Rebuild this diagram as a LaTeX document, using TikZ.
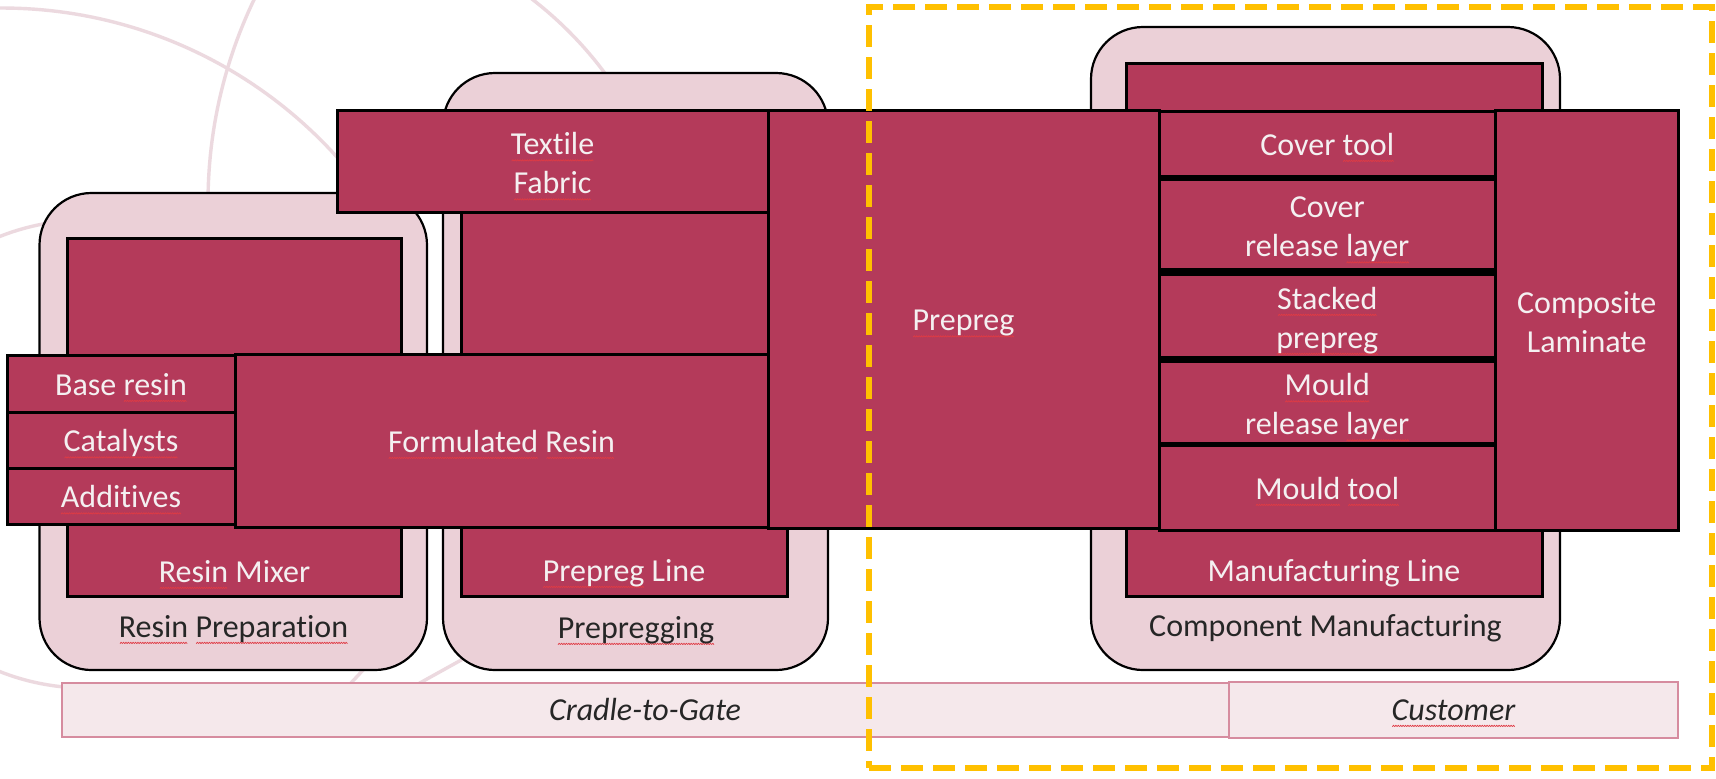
\documentclass[tikz,border=0pt]{standalone}
\usepackage{fontspec}
\setmainfont{Carlito}[Ligatures=NoCommon]
\usetikzlibrary{fit}
\definecolor{crim}{HTML}{B43A5A}
\definecolor{contfill}{HTML}{EBD0D7}
\definecolor{gold}{HTML}{FFC000}
\definecolor{arcpink}{HTML}{ECD9DF}
\definecolor{barfill}{HTML}{F5E8EB}
\definecolor{barline}{HTML}{D68C9F}
\definecolor{sqred}{HTML}{E03A44}
\definecolor{wtxt}{HTML}{F4F0F1}
\definecolor{dtxt}{HTML}{262626}
\newcommand\sqmark{\tikz[baseline=0pt]{\useasboundingbox (0pt,-3.8pt) rectangle (1.2pt,0pt);
  \draw[sqred, line width=0.35pt, line join=round] (0pt,-3.3pt) -- (0.6pt,-2.6pt) -- (1.2pt,-3.3pt);}}
\newsavebox\sqwordbox
\newsavebox\sqmarkbox
\newcommand\sqw[1]{\sbox\sqwordbox{#1}\sbox\sqmarkbox{\sqmark}\leavevmode\rlap{\hbox to \wd\sqwordbox{\cleaders\copy\sqmarkbox\hfill}}\usebox\sqwordbox}
\begin{document}
\begin{tikzpicture}[x=0.5pt, y=-0.5pt,
  every node/.style={inner sep=0pt, outer sep=0pt, font=\fontsize{16}{19.5}\selectfont},
  arcst/.style={draw=arcpink, line width=1.7pt},
  cont/.style={draw=black, fill=contfill, line width=1.1pt, rounded corners=26pt},
  mach/.style={draw=black, fill=crim, line width=1.5pt},
  mat/.style={draw=black, fill=crim, line width=1.5pt},
  one/.style={text=wtxt, text height=14pt, text depth=2.5pt},
  two/.style={text=wtxt, align=center, text height=35pt, text depth=2.5pt},
  wlab/.style={text=wtxt, anchor=base},
  dlab/.style={text=dtxt, anchor=base},
  bar/.style={draw=barline, fill=barfill, line width=0.9pt},
]
\useasboundingbox (0,0) rectangle (1716,778);
\fill[white] (0,0) rectangle (1716,778);

% background decorative arcs
\draw[arcst] plot[domain=95:35, samples=60] ({2+451*cos(\x)}, {459-451*sin(\x)});
\draw[arcst] plot[domain=148:186, samples=40] ({676+468*cos(\x)}, {202-468*sin(\x)});
\draw[arcst] plot[domain=58:35, samples=30] ({300+380*cos(\x)}, {300-380*sin(\x)});
\draw[arcst] plot[domain=98:130, samples=30] ({86+234*cos(\x)}, {454-234*sin(\x)});
\draw[arcst] plot[domain=234:265, samples=30] ({86+234*cos(\x)}, {454-234*sin(\x)});
\draw[arcst] (350,684) -- (365,668);
\draw[arcst] (418,684) -- (463,659);

% process containers
\node[cont, fit={(39.5,193)(427,670)}] (resinprep) {};
\node[cont, fit={(443,73)(828,670)}] (prepregging) {};
\node[cont, fit={(1091,27)(1560,670)}] (compmanuf) {};

% machines
\node[mach, fit={(67.5,238)(401.5,596)}] (mixer) {};
\node[mach, fit={(461,150)(787,596)}] (prepline) {};
\node[mach, fit={(1126,63)(1542,596)}] (mfgline) {};

\node[wlab] (mixerlbl) at (234.5,582) {\sqw{Resin} Mixer};
\node[wlab] (preplinelbl) at (624,581) {\sqw{Prepreg} Line};
\node[wlab] (mfglinelbl) at (1334,581) {Manufacturing Line};
\node[dlab] (resinpreplbl) at (233.5,637) {\sqw{Resin} \sqw{Preparation}};
\node[dlab] (prepregginglbl) at (636,638) {\sqw{Prepregging}};
\node[dlab] (compmanuflbl) at (1325.5,636) {Component Manufacturing};

% materials
\node[mat, fit={(337,110)(768,212)}] (textile) {};
\node[mat, fit={(7,355)(235,412)}] (base) {};
\node[mat, fit={(7,412)(235,468)}] (cat) {};
\node[mat, fit={(7,468)(235,524)}] (add) {};
\node[mat, fit={(235,354)(768,527)}] (formres) {};
\node[mat, fit={(768,110)(1159,528)}] (prepreg) {};
\node[fill=black, fit={(1159,111)(1495.5,530)}] (stackbg) {};
\node[mat, fit={(1159,111)(1495.5,176)}] (covertool) {};
\node[mat, fit={(1159,179)(1495.5,269)}] (coverrel) {};
\node[mat, fit={(1159,274)(1495.5,357)}] (stacked) {};
\node[mat, fit={(1159,361)(1495.5,443)}] (mouldrel) {};
\node[mat, fit={(1159,445)(1495.5,530)}] (mouldtool) {};
\node[mat, fit={(1495.5,110)(1678,530)}] (composite) {};

\node[two] (textilelbl) at (textile.center) {\sqw{Textile}\\\sqw{Fabric}};
\node[one] (baselbl) at (base.center) {Base \sqw{resin}};
\node[one] (catlbl) at (cat.center) {\sqw{Catalysts}};
\node[one] (addlbl) at (add.center) {\sqw{Additives}};
\node[one] (formreslbl) at (formres.center) {\sqw{Formulated} \sqw{Resin}};
\node[one] (prepreglbl) at (prepreg.center) {\sqw{Prepreg}};
\node[one] (covertoollbl) at (covertool.center) {Cover \sqw{tool}};
\node[two] (coverrellbl) at (coverrel.center) {Cover\\release \sqw{layer}};
\node[two] (stackedlbl) at (stacked.center) {\sqw{Stacked}\\\sqw{prepreg}};
\node[two] (mouldrellbl) at (mouldrel.center) {\sqw{Mould}\\release \sqw{layer}};
\node[one] (mouldtoollbl) at (mouldtool.center) {\sqw{Mould} \sqw{tool}};
\node[two] (compositelbl) at (composite.center) {Composite\\Laminate};

% scope bars
\node[bar, fit={(62,683)(1229,737)}] (cradle) {};
\node[bar, fit={(1229,682)(1678,738)}] (customer) {};
\node[dlab] (cradlelbl) at (645,720) {\textit{Cradle-to-Gate}};
\node[dlab] (customerlbl) at (1453.5,720) {\textit{\sqw{Customer}}};

% customer scope frame
\node[draw=gold, line width=3pt, dash pattern=on 11pt off 5pt, fit={(869,7)(1711.5,768)}] (custscope) {};
\end{tikzpicture}
\end{document}
